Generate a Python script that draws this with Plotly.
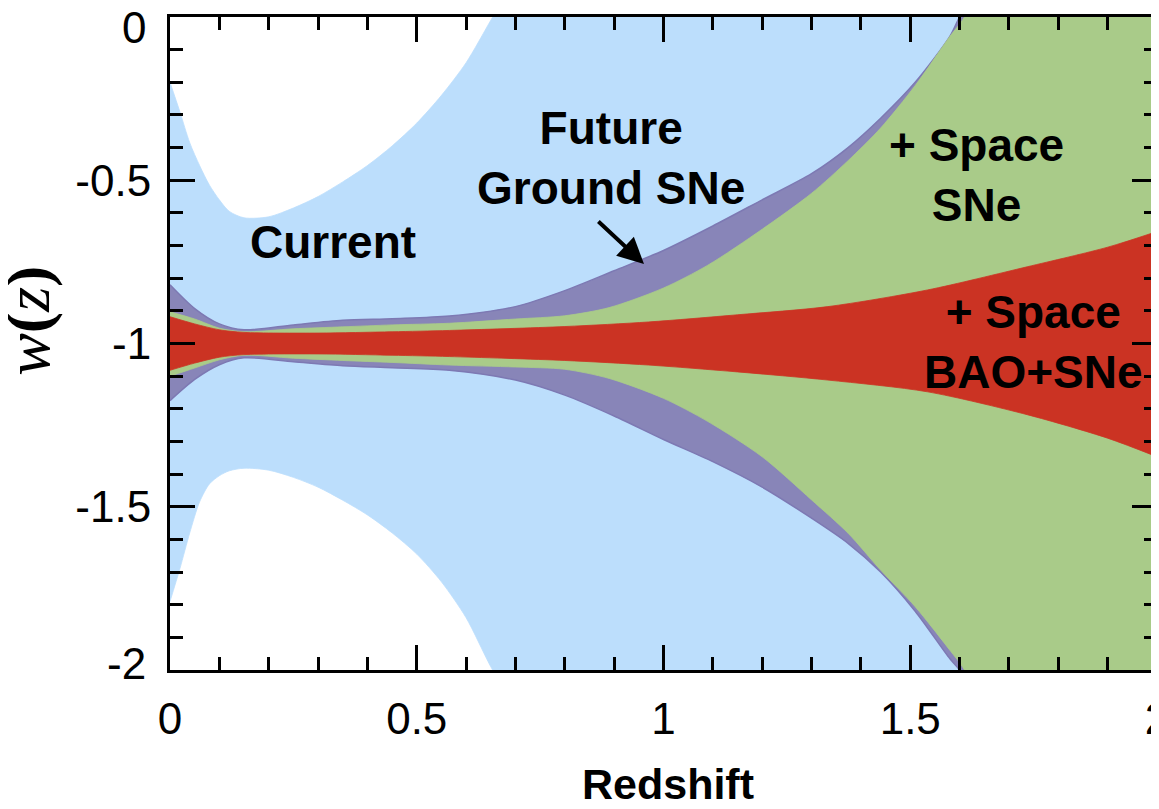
import plotly.graph_objects as go

# ---------------- data ----------------
# Current constraints (light blue)
z_current = [0.00, 0.02, 0.04, 0.06, 0.08, 0.10, 0.12, 0.15, 0.20, 0.25, 0.30, 0.35,
             0.40, 0.45, 0.50, 0.55, 0.60, 0.65, 0.70, 0.80, 1.00, 1.50, 2.00]
w_current_upper = [-0.20, -0.29, -0.385, -0.455, -0.515, -0.56, -0.595, -0.615, -0.612,
                   -0.585, -0.55, -0.505, -0.455, -0.395, -0.325, -0.24, -0.14, -0.01,
                   0.12, 0.40, 1.00, 2.50, 4.00]
w_current_lower = [-1.79, -1.69, -1.58, -1.485, -1.43, -1.405, -1.39, -1.382, -1.388,
                   -1.41, -1.44, -1.48, -1.525, -1.58, -1.645, -1.73, -1.84, -1.99,
                   -2.12, -2.40, -3.00, -4.50, -6.00]

# Future Ground SNe (purple)
z_ground = [0.00, 0.05, 0.10, 0.15, 0.25, 0.35, 0.45, 0.566, 0.70, 0.80, 0.90, 1.00,
            1.10, 1.20, 1.30, 1.374, 1.44, 1.51, 1.58, 1.60, 1.70, 2.00]
w_ground_upper = [-0.82, -0.893, -0.94, -0.958, -0.943, -0.929, -0.924, -0.916, -0.887,
                  -0.838, -0.777, -0.715, -0.640, -0.56, -0.48, -0.40, -0.31, -0.20,
                  -0.06, 0.00, 0.25, 1.00]
w_ground_lower = [-1.175, -1.11, -1.065, -1.044, -1.056, -1.068, -1.074, -1.082, -1.112,
                  -1.158, -1.222, -1.294, -1.362, -1.44, -1.535, -1.612, -1.70, -1.82,
                  -1.965, -2.00, -2.25, -3.00]

# + Space SNe (green)
z_space = [0.00, 0.05, 0.10, 0.15, 0.25, 0.35, 0.45, 0.566, 0.70, 0.80, 0.89, 1.00,
           1.09, 1.20, 1.30, 1.374, 1.44, 1.51, 1.58, 1.61, 1.70, 2.00]
w_space_upper = [-0.903, -0.925, -0.953, -0.964, -0.955, -0.949, -0.943, -0.938, -0.925,
                 -0.915, -0.89, -0.83, -0.76, -0.65, -0.54, -0.44, -0.34, -0.21,
                 -0.06, 0.00, 0.30, 1.20]
w_space_lower = [-1.10, -1.075, -1.05, -1.036, -1.045, -1.052, -1.058, -1.066, -1.072,
                 -1.079, -1.107, -1.168, -1.239, -1.347, -1.479, -1.581, -1.694,
                 -1.806, -1.939, -2.00, -2.30, -3.20]

# + Space BAO+SNe (red)
z_bao = [0.00, 0.05, 0.10, 0.15, 0.30, 0.45, 0.566, 0.80, 0.97, 1.15, 1.333, 1.535,
         1.737, 1.90, 2.00]
w_bao_upper = [-0.918, -0.94, -0.958, -0.966, -0.968, -0.964, -0.96, -0.948, -0.934,
               -0.912, -0.887, -0.836, -0.765, -0.705, -0.657]
w_bao_lower = [-1.082, -1.06, -1.042, -1.034, -1.032, -1.036, -1.04, -1.052, -1.066,
               -1.087, -1.112, -1.148, -1.218, -1.29, -1.347]

x_tick_vals = [0, 0.5, 1, 1.5, 2]
x_tick_text = ["0", "0.5", "1", "1.5", "2"]
y_tick_vals = [0, -0.5, -1, -1.5, -2]
y_tick_text = ["0", "-0.5", "-1", "-1.5", "-2"]

# ---------------- styling ----------------
C_BLUE = "#BCDEFC"
C_PURPLE = "#8885B8"
C_PURPLE_EDGE = "#7D79B3"
C_GREEN = "#A9CB89"
C_RED = "#CB3323"

TICK_FONT = "Liberation Sans, Arial, sans-serif"
LABEL_FONT = "Liberation Sans, Arial, Helvetica, sans-serif"
TICK_SIZE = 44


def band(fig, z, up, lo, color, edge=None, edge_w=0.8):
    # lower boundary first, then upper boundary filled down to it
    fig.add_trace(go.Scatter(
        x=z, y=lo, mode="lines",
        line=dict(color=edge or color, width=edge_w, shape="spline", smoothing=0.8),
        hoverinfo="skip",
    ))
    fig.add_trace(go.Scatter(
        x=z, y=up, mode="lines", fill="tonexty", fillcolor=color,
        line=dict(color=edge or color, width=edge_w, shape="spline", smoothing=0.8),
        hoverinfo="skip",
    ))


fig = go.Figure()
band(fig, z_current, w_current_upper, w_current_lower, C_BLUE)
band(fig, z_ground, w_ground_upper, w_ground_lower, C_PURPLE, C_PURPLE_EDGE, 1.5)
band(fig, z_space, w_space_upper, w_space_lower, C_GREEN)
band(fig, z_bao, w_bao_upper, w_bao_lower, C_RED)

axis_common = dict(
    ticks="inside", ticklen=25, tickwidth=3, tickcolor="black",
    showline=True, linewidth=3, linecolor="black", mirror="ticks",
    showgrid=False, zeroline=False, automargin=False,
    tickfont=dict(family=TICK_FONT, size=TICK_SIZE, color="black"),
    ticklabeloverflow="allow",
)

fig.update_xaxes(
    range=[0, 2], tickmode="array", tickvals=x_tick_vals, ticktext=x_tick_text,
    minor=dict(ticks="inside", ticklen=13, tickwidth=3, tickcolor="black",
               tick0=0, dtick=0.1),
    ticklabelstandoff=8,
    **axis_common,
)

# the end labels of the y axis sit slightly inside the frame in the reference,
# so they are drawn as annotations; the inner ones stay real tick labels
y_axis_text = ["" if v in (0, -2) else t for v, t in zip(y_tick_vals, y_tick_text)]
fig.update_yaxes(
    range=[-2, 0], tickmode="array", tickvals=y_tick_vals, ticktext=y_axis_text,
    minor=dict(ticks="inside", ticklen=13, tickwidth=3, tickcolor="black",
               tick0=0, dtick=0.1),
    ticklabelstandoff=7,
    **axis_common,
)

tick_font = dict(family=TICK_FONT, size=TICK_SIZE, color="black")
end_shift = {0: -10, -2: 7}
end_labels = [
    dict(x=-0.0233, y=v, xref="paper", yref="y", text=t, showarrow=False,
         xanchor="right", yanchor="middle", yshift=end_shift[v], font=tick_font,
         borderpad=0)
    for v, t in zip(y_tick_vals, y_tick_text) if v in end_shift
]

ann_font = dict(family=LABEL_FONT, size=46, color="black")
annotations = end_labels + [
    dict(x=0.33, y=-0.69, xref="x", yref="y", text="<b>Current</b>",
         showarrow=False, font=ann_font),
    dict(x=0.894, y=-0.433, xref="x", yref="y", text="<b>Future<br>Ground SNe</b>",
         showarrow=False, font=ann_font),
    dict(x=1.635, y=-0.484, xref="x", yref="y", text="<b>+ Space<br>SNe</b>",
         showarrow=False, font=ann_font),
    dict(x=1.749, y=-0.994, xref="x", yref="y", text="<b>+ Space<br>BAO+SNe</b>",
         showarrow=False, font=ann_font),
    # arrow pointing to the purple band
    dict(x=0.9605, y=-0.7565, ax=0.865, ay=-0.622, xref="x", yref="y",
         axref="x", ayref="y", text="", showarrow=True, arrowhead=2,
         arrowsize=1.3, arrowwidth=4, arrowcolor="black"),
    # axis titles
    dict(x=0.5046, y=-0.1746, xref="paper", yref="paper", text="<b>Redshift</b>",
         showarrow=False, xanchor="center", yanchor="middle",
         font=dict(family=LABEL_FONT, size=43, color="black")),
    dict(x=-0.144, y=0.5345, xref="paper", yref="paper",
         text="<i>w</i><b>(</b><i>z</i><b>)</b>", textangle=-90,
         showarrow=False, xanchor="center", yanchor="middle",
         font=dict(family="Liberation Serif, DejaVu Serif, serif", size=64, color="black")),
]

# the page body keeps the browser's 8 px margin, so the figure is 8 px smaller
# and its margins are 8 px less than the reference's pixel positions
fig.update_layout(
    width=1151, height=801,
    margin=dict(l=162, r=2, t=9, b=139),
    plot_bgcolor="white", paper_bgcolor="white",
    showlegend=False,
    annotations=annotations,
)

fig.write_html("out.html")
